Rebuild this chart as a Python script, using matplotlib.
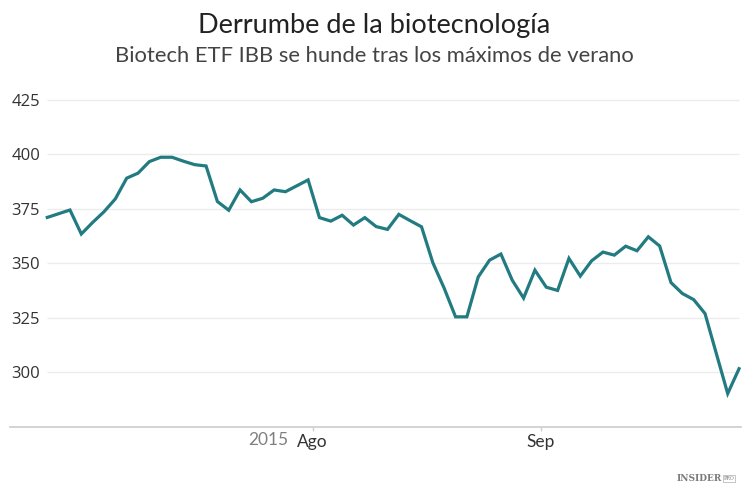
import numpy as np
import matplotlib
matplotlib.use("Agg")
import matplotlib.pyplot as plt

# IBB closing values, evenly spaced trading sessions (late Jun - late Sep 2015)
ibb_close = [
    371.0, 372.7, 374.4, 363.4, 368.7, 373.6, 379.5, 389.0, 391.3, 396.6,
    398.6, 398.6, 396.8, 395.2, 394.6, 378.3, 374.3, 383.6, 378.2, 379.8,
    383.6, 382.8, 385.5, 388.2, 370.9, 369.3, 372.0, 367.5, 370.9, 366.8,
    365.5, 372.4, 369.5, 366.7, 350.2, 338.5, 325.4, 325.4, 343.7, 351.4,
    354.2, 342.2, 334.0, 346.8, 339.0, 337.5, 352.2, 344.1, 351.1, 355.1,
    353.7, 357.8, 355.7, 362.1, 357.9, 341.1, 336.1, 333.3, 326.9, 308.5,
    290.2, 301.6,
]
y_ticks = [300, 325, 350, 375, 400, 425]
month_labels = ["Ago", "Sep"]
month_pos = [23.39, 43.54]  # where the 1st of each month falls between sessions

TITLE = "Derrumbe de la biotecnología"
SUBTITLE = "Biotech ETF IBB se hunde tras los máximos de verano"

LINE_COLOR = "#217b80"
W, H = 750, 491


def main():
    fig = plt.figure(figsize=(W / 100, H / 100), dpi=100)
    fig.patch.set_facecolor("white")

    # axes placed in pixel terms
    left_px, right_px, bottom_px = 10, 741, 426.7
    top_px = 88.8
    ax = fig.add_axes([left_px / W, (H - bottom_px) / H,
                       (right_px - left_px) / W, (bottom_px - top_px) / H])

    x = np.arange(len(ibb_close))
    step = 11.34
    ax.set_xlim((left_px - 47.3) / step, (right_px - 47.3) / step)
    ax.set_ylim(275, 430)

    ax.hlines(y_ticks, x[0], x[-1], color="#ececec", lw=1.0, zorder=1)
    ax.plot(x, ibb_close, color=LINE_COLOR, lw=2.3, solid_joinstyle="miter",
            zorder=3)

    for s in ["top", "right", "left"]:
        ax.spines[s].set_visible(False)
    ax.spines["bottom"].set_color("#cccccc")
    ax.spines["bottom"].set_linewidth(1.2)

    ax.set_yticks(y_ticks)
    ax.set_yticklabels([str(v) for v in y_ticks])
    ax.tick_params(axis="y", length=0, pad=-1, labelsize=12,
                   labelcolor="#333333")
    for lab in ax.get_yticklabels():
        lab.set_horizontalalignment("left")
        lab.set_fontfamily("Open Sans")

    ax.set_xticks(month_pos)
    ax.set_xticklabels(month_labels)
    ax.tick_params(axis="x", length=3, width=1, color="#cccccc", pad=2.5,
                   labelsize=12.5, labelcolor="#333333")
    for lab in ax.get_xticklabels():
        lab.set_fontfamily("Lato")

    ax.annotate("2015", xy=(month_pos[0], 0), xycoords=("data", "axes fraction"),
                xytext=(-17.5, -12.9), textcoords="offset points",
                ha="right", va="baseline", fontsize=12.5, color="#808080",
                family="Lato")

    fig.text(374.5 / W, 1 - 33 / H, TITLE, ha="center", va="baseline",
             fontsize=19.5, color="#222222", family="Lato")
    fig.text(374.5 / W, 1 - 62 / H, SUBTITLE, ha="center", va="baseline",
             fontsize=15.8, color="#444444", family="Lato")

    # logo
    fig.text(722 / W, 1 - 481 / H, "INSIDER", ha="right", va="baseline",
             fontsize=6.5, fontweight="bold", color="#7a7a7a",
             family="DejaVu Serif")
    fig.text(724 / W, 1 - 480 / H, "PRO", ha="left", va="baseline",
             fontsize=3.5, color="#7a7a7a", family="DejaVu Serif",
             bbox=dict(boxstyle="square,pad=0.15", fc="white", ec="#9a9a9a",
                       lw=0.4))

    fig.savefig("out.png", dpi=100, facecolor="white")


if __name__ == "__main__":
    main()
